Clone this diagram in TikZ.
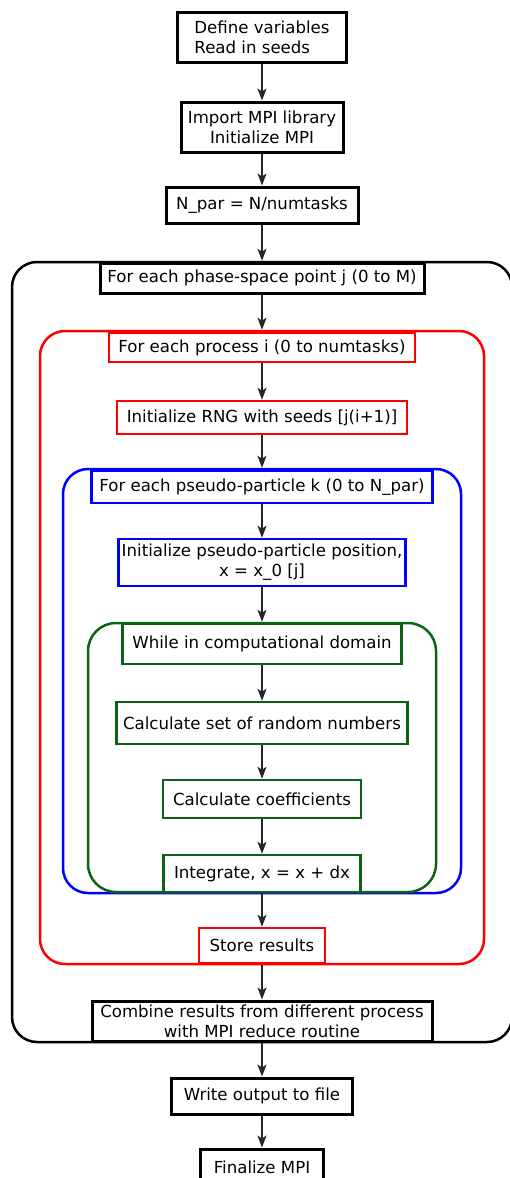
\documentclass[tikz,border=0pt]{standalone}
\usepackage{fontspec}
\setmainfont{DejaVu Sans}
\usetikzlibrary{arrows.meta}
\pgfdeclarelayer{bg}
\pgfsetlayers{bg,main}
\definecolor{procred}{RGB}{255,0,0}
\definecolor{partblue}{RGB}{0,0,255}
\definecolor{domgreen}{RGB}{10,100,20}

\tikzset{
  stepbox/.style={draw=#1, fill=white, line width=2.5pt, inner sep=0pt,
    align=center, font=\fontsize{16.6}{20}\selectfont},
  loopframe/.style 2 args={draw=#1, line width=2.5pt, rounded corners=#2, inner sep=0pt},
  flow/.style={-{Stealth[length=12pt,width=9pt,inset=3pt]}, line width=1.3pt, black!85},
}

\begin{document}
\begin{tikzpicture}[x=1pt,y=-1pt]
        \useasboundingbox (0,0) rectangle (509,1178);
        % loop frames
        \begin{pgfonlayer}{bg}
                \node (jframe) [loopframe={black}{25pt}, minimum width=500pt, minimum height=780pt] at (262,652) {};
                \node (iframe) [loopframe={procred}{25pt}, minimum width=444pt, minimum height=633pt] at (262,647.5) {};
                \node (kframe) [loopframe={partblue}{25pt}, minimum width=398pt, minimum height=424pt] at (262,681) {};
                \node (wframe) [loopframe={domgreen}{28pt}, minimum width=348pt, minimum height=269pt] at (262,757.5) {};
        \end{pgfonlayer}
        % steps
        \node (v1) [stepbox=black, line width=3pt, minimum width=169pt, minimum height=50pt, align=left] at (262,37) {Define variables\\Read in seeds};
        \node (v2) [stepbox=black, line width=3pt, minimum width=162pt, minimum height=50pt] at (262,127) {Import MPI library\\Initialize MPI};
        \node (v3) [stepbox=black, line width=3pt, minimum width=192pt, minimum height=36pt] at (262,205) {N\_par = N/numtasks};
        \node (v4) [stepbox=black, line width=3pt, minimum width=324pt, minimum height=30pt] at (262,278) {For each phase-space point j (0 to M)};
        \node (v5) [stepbox=procred, minimum width=306pt, minimum height=29pt] at (262,347.5) {For each process i (0 to numtasks)};
        \node (v6) [stepbox=procred, minimum width=290pt, minimum height=33pt] at (262,417.5) {Initialize RNG with seeds [j(i+1)]};
        \node (v7) [stepbox=partblue, minimum width=341pt, minimum height=32pt] at (262,487) {For each pseudo-particle k (0 to N\_par)};
        \node (v8) [stepbox=partblue, minimum width=287pt, minimum height=47pt] at (262,562.5) {Initialize pseudo-particle position,\\x = x\_0 [j]};
        \node (v9) [stepbox=domgreen, minimum width=279pt, minimum height=40pt] at (262,644) {While in computational domain};
        \node (v10) [stepbox=domgreen, minimum width=291pt, minimum height=42pt] at (262,723) {Calculate set of random numbers};
        \node (v11) [stepbox=domgreen, minimum width=198pt, minimum height=38pt] at (262,799) {Calculate coefficients};
        \node (v12) [stepbox=domgreen, minimum width=197pt, minimum height=37pt] at (262,873.5) {Integrate, x = x + dx};
        \node (v13) [stepbox=procred, minimum width=126pt, minimum height=35pt] at (262,945.5) {Store results};
        \node (v14) [stepbox=black, line width=3pt, minimum width=340pt, minimum height=40pt] at (262,1021) {Combine results from different process\\with MPI reduce routine};
        \node (v15) [stepbox=black, line width=3pt, minimum width=181pt, minimum height=36pt] at (262,1096) {Write output to file};
        \node (v16) [stepbox=black, line width=3pt, minimum width=123pt, minimum height=36pt] at (262,1167) {Finalize MPI};
        % arrows
        \draw[flow] (v1) -- (v2);
        \draw[flow] (v2) -- (v3);
        \draw[flow] (v3) -- (jframe);
        \draw[flow] (v4) -- (iframe);
        \draw[flow] (v5) -- (v6);
        \draw[flow] (v6) -- (kframe);
        \draw[flow] (v7) -- (v8);
        \draw[flow] (v8) -- (wframe);
        \draw[flow] (v9) -- (v10);
        \draw[flow] (v10) -- (v11);
        \draw[flow] (v11) -- (v12);
        \draw[flow] (kframe) -- (v13);
        \draw[flow] (iframe) -- (v14);
        \draw[flow] (v14) -- (v15);
        \draw[flow] (v15) -- (v16);
\end{tikzpicture}
\end{document}
